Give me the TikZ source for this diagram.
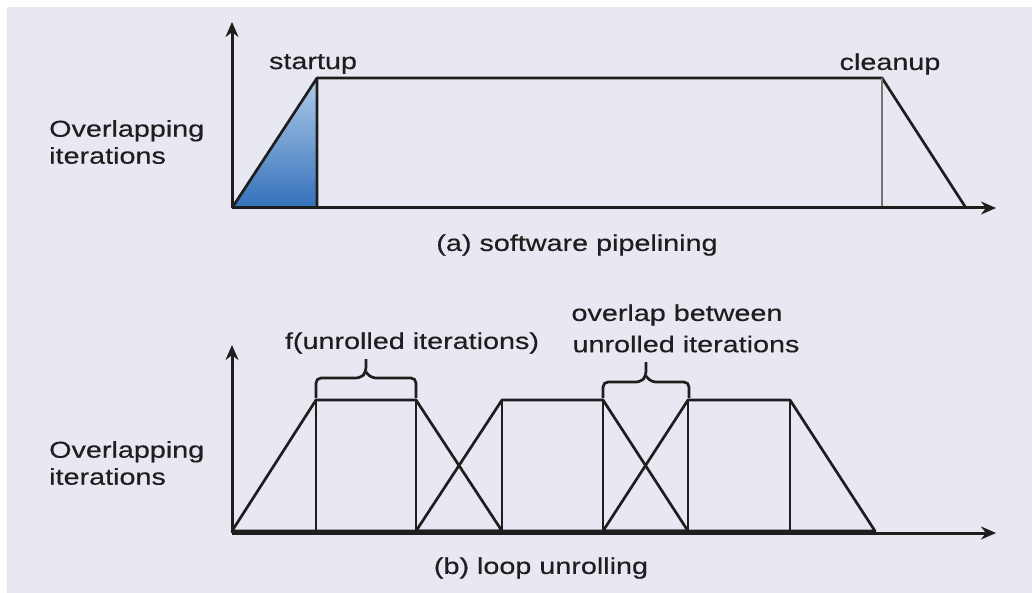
\documentclass[tikz,border=0pt]{standalone}
\usepackage{fontspec}
\setmainfont{Liberation Sans}
\newfontfamily\widefont[FakeStretch=1.25,FakeBold=0.4]{Liberation Sans}
\usetikzlibrary{arrows.meta}
\definecolor{bgc}{RGB}{232,232,242}
\definecolor{ink}{RGB}{30,30,30}
\definecolor{bluedark}{RGB}{52,112,186}
\definecolor{bluelight}{RGB}{176,204,234}
\tikzset{
  lbl/.style={font=\widefont\fontsize{23}{27}\selectfont, text=ink, inner sep=0pt},
  axis/.style={draw=ink, line width=3pt, -{Stealth[length=15pt,width=13pt]}},
  shp/.style={draw=ink, line width=2.7pt, line join=round},
  brace/.style={draw=ink, line width=2.7pt, rounded corners=5pt},
}
\begin{document}
\begin{tikzpicture}[x=1pt,y=-1pt]
\useasboundingbox (0,0) rectangle (1032,593);
\fill[bgc] (7,7) rectangle (1032,593);

% ---------- top panel ----------
\shade[top color=bluelight, bottom color=bluedark] (232,208) -- (317,78) -- (317,208) -- cycle;
\draw[shp] (232,208) -- (317,78) -- (317,208);
\draw[shp] (317,78) -- (882,78) -- (966,208);
\draw[draw=black!55, line width=2.6pt] (882,78) -- (882,208);
\coordinate (ta0) at (232,208);
\coordinate (tay) at (232,22);
\coordinate (tax) at (996,208);
\draw[axis] (ta0) -- (tay);
\draw[axis] (ta0) -- (tax);

\node[lbl] (startup) at (313,64) {startup};
\node[lbl] (cleanup) at (890,64) {cleanup};
\node[lbl, anchor=west, align=left] (ovA) at (49,142) {Overlapping\\iterations};
\node[lbl] (capA) at (577,245) {(a) software pipelining};

% ---------- bottom panel ----------
% first unrolled block
\draw[shp] (232,531) -- (316,400) -- (416,400) -- (502,531) -- cycle;
\draw[shp] (316,400) -- (316,531);
\draw[shp] (416,400) -- (416,531);
% second unrolled block
\draw[shp] (416,531) -- (502,400) -- (603,400) -- (688,531) -- cycle;
\draw[shp] (502,400) -- (502,531);
\draw[shp] (603,400) -- (603,531);
% third unrolled block
\draw[shp] (603,531) -- (688,400) -- (790,400) -- (875,531) -- cycle;
\draw[shp] (688,400) -- (688,531);
\draw[shp] (790,400) -- (790,531);

\coordinate (ba0) at (232,533);
\coordinate (bay) at (232,345);
\coordinate (bax) at (996,533);
\draw[axis] (ba0) -- (bay);
\draw[axis] (ba0) -- (bax);

% braces
\draw[brace] (316,398) -- (316,378) -- (361,378) -- (366,372) -- (366,359);
\draw[brace] (416,398) -- (416,378) -- (371,378) -- (366,372);
\draw[brace] (603,398) -- (603,382) -- (641,382) -- (646,376) -- (646,362);
\draw[brace] (689,398) -- (689,382) -- (651,382) -- (646,376);

\node[lbl] (fun) at (412,343) {f(unrolled iterations)};
\node[lbl] (ovl1) at (677,315) {overlap between};
\node[lbl] (ovl2) at (686,344) {unrolled iterations};
\node[lbl, anchor=west, align=left] (ovB) at (49,463) {Overlapping\\iterations};
\node[lbl] (capB) at (541,568) {(b) loop unrolling};
\end{tikzpicture}
\end{document}
